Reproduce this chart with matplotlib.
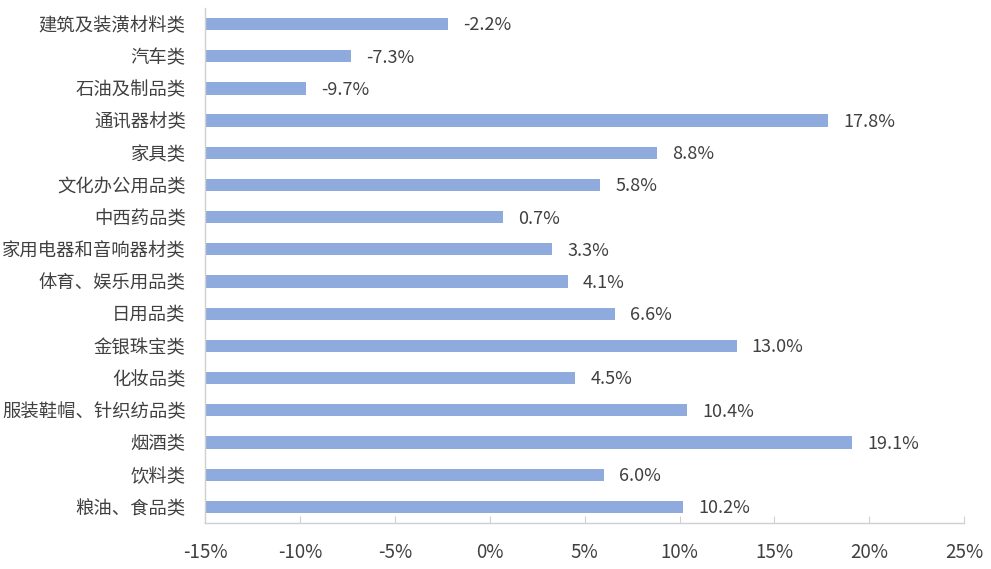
import matplotlib.pyplot as plt
from matplotlib.ticker import FuncFormatter

plt.rcParams["font.family"] = ["Noto Sans CJK SC", "DejaVu Sans"]

# categories listed top to bottom
categories = [
    "建筑及装潢材料类", "汽车类", "石油及制品类", "通讯器材类", "家具类",
    "文化办公用品类", "中西药品类", "家用电器和音响器材类", "体育、娱乐用品类",
    "日用品类", "金银珠宝类", "化妆品类", "服装鞋帽、针织纺品类", "烟酒类",
    "饮料类", "粮油、食品类",
]
values = [-2.2, -7.3, -9.7, 17.8, 8.8, 5.8, 0.7, 3.3, 4.1, 6.6, 13.0, 4.5,
          10.4, 19.1, 6.0, 10.2]
x_ticks = [-15, -10, -5, 0, 5, 10, 15, 20, 25]

base = -15
bar_color = "#8FAADC"
text_color = "#404040"
axis_color = "#D0D0D0"

fig = plt.figure(figsize=(9.91, 5.69), dpi=100)
ax = fig.add_axes([0.207, 0.081, 0.766, 0.905])

pos = list(range(len(categories)))[::-1]
widths = [v - base for v in values]
ax.barh(pos, widths, left=base, height=0.38, color=bar_color)

for p, v in zip(pos, values):
    ax.annotate(f"{v:.1f}%", xy=(v, p), xytext=(11, -1), textcoords="offset points",
                va="center", ha="left", fontsize=13, color=text_color)

ax.set_xlim(-15, 25)
ax.set_ylim(-0.5, len(categories) - 0.5)
ax.set_xticks(x_ticks)
ax.xaxis.set_major_formatter(FuncFormatter(lambda x, _: f"{x:.0f}%"))
ax.set_yticks(pos)
ax.set_yticklabels(categories)

for s in ["top", "right"]:
    ax.spines[s].set_visible(False)
for s in ["left", "bottom"]:
    ax.spines[s].set_color(axis_color)
    ax.spines[s].set_linewidth(1)

ax.tick_params(axis="x", direction="in", length=5, color=axis_color,
               labelsize=13.5, labelcolor=text_color, pad=14)
ax.tick_params(axis="y", length=0, labelsize=13.2, labelcolor=text_color, pad=14)

fig.savefig("out.png", dpi=100)
